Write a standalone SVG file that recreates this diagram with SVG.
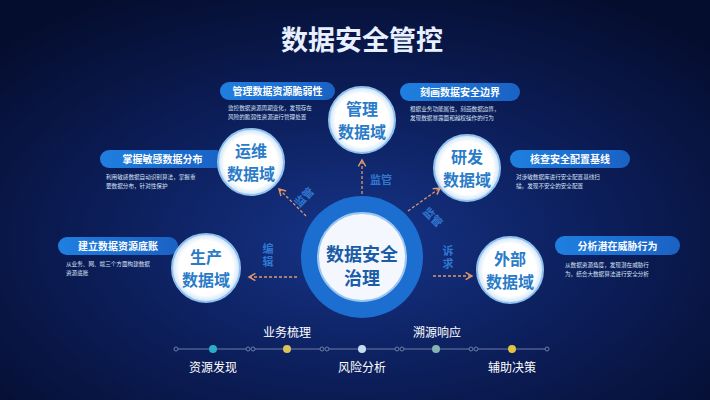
<svg xmlns="http://www.w3.org/2000/svg" width="710" height="400" viewBox="0 0 710 400">
<defs>
<radialGradient id="bg" cx="0.5" cy="0.6" r="0.7">
<stop offset="0" stop-color="#163488"/>
<stop offset="0.5" stop-color="#0c1e5a"/>
<stop offset="1" stop-color="#050d2e"/>
</radialGradient>
<linearGradient id="pill" x1="0" y1="0" x2="1" y2="0">
<stop offset="0" stop-color="#1f7fe0"/>
<stop offset="1" stop-color="#1a62c4"/>
</linearGradient>
<radialGradient id="node" cx="0.5" cy="0.5" r="0.5">
<stop offset="0.8" stop-color="#ffffff"/>
<stop offset="1" stop-color="#cfe3f7"/>
</radialGradient>
<marker id="ah" viewBox="0 0 10 10" refX="8" refY="5" markerWidth="7" markerHeight="7" orient="auto">
<path d="M1,1 L8,5 L1,9" fill="none" stroke="#e0986a" stroke-width="1.6"/>
</marker>
<style>
.pill{fill:url(#pill)}
.pt{font-family:"Noto Sans CJK SC","Liberation Sans",sans-serif;font-size:10px;fill:#ffffff;text-anchor:middle;font-weight:bold}
.desc{font-family:"Noto Sans CJK SC","Liberation Sans",sans-serif;font-size:5.6px;fill:#d8e2f4}
.nc{fill:url(#node);stroke:#8ec1ef;stroke-width:2}
.nt{font-family:"Noto Sans CJK SC","Liberation Sans",sans-serif;font-size:16px;fill:#2a7bc8;text-anchor:middle;font-weight:bold}
.conn{stroke:#e0986a;stroke-width:1.3;stroke-dasharray:3 2;fill:none;marker-end:url(#ah)}
.cl{font-family:"Noto Sans CJK SC","Liberation Sans",sans-serif;font-size:11px;fill:#2f78d0;text-anchor:middle;font-weight:bold}
.vl{writing-mode:vertical-rl;letter-spacing:2px}
.tl{font-family:"Noto Sans CJK SC","Liberation Sans",sans-serif;font-size:12px;fill:#ffffff;text-anchor:middle}
.seg{stroke:#6c7fa6;stroke-width:1.2}
.jt{fill:none;stroke:#6c7fa6;stroke-width:1}
.ct{font-family:"Noto Sans CJK SC","Liberation Sans",sans-serif;font-size:18px;font-weight:bold;fill:#1b5ca8;text-anchor:middle}
</style>
</defs>
<rect width="710" height="400" fill="url(#bg)"/>
<text x="362" y="50" font-family="Noto Sans CJK SC,Liberation Sans,sans-serif" font-size="27" font-weight="bold" fill="#e8f0ff" text-anchor="middle">数据安全管控</text>

<g id="label-1">
<rect class="pill" x="220" y="82" width="115" height="18" rx="9"/>
<text class="pt" x="277.5" y="95">管理数据资源脆弱性</text>
<text class="desc" x="228" y="110">监控数据资源周期变化，发现存在</text>
<text class="desc" x="228" y="119">风险的脆弱性资源进行管理处置</text>
</g>
<g id="label-2">
<rect class="pill" x="100" y="150" width="125" height="18" rx="9"/>
<text class="pt" x="162.5" y="163">掌握敏感数据分布</text>
<text class="desc" x="106" y="179">利用敏感数据自动识别算法，掌握重</text>
<text class="desc" x="106" y="188">要数据分布，针对性保护</text>
</g>
<g id="label-3">
<rect class="pill" x="58" y="237" width="120" height="18" rx="9"/>
<text class="pt" x="118" y="250">建立数据资源底账</text>
<text class="desc" x="66" y="266">从业务、网、端三个方面构建数据</text>
<text class="desc" x="66" y="275">资源底账</text>
</g>
<g id="label-4">
<rect class="pill" x="400" y="83" width="120" height="18" rx="9"/>
<text class="pt" x="460" y="96">刻画数据安全边界</text>
<text class="desc" x="410" y="111">根据业务功能属性，刻画数据边界，</text>
<text class="desc" x="410" y="120">发现数据暴露面和越权操作的行为</text>
</g>
<g id="label-5">
<rect class="pill" x="510" y="150" width="120" height="18" rx="9"/>
<text class="pt" x="570" y="163">核查安全配置基线</text>
<text class="desc" x="516" y="179">对涉敏数据库进行安全配置基线扫</text>
<text class="desc" x="516" y="188">描，发现不安全的安全配置</text>
</g>
<g id="label-6">
<rect class="pill" x="555" y="236" width="125" height="19" rx="9.5"/>
<text class="pt" x="617.5" y="249.5">分析潜在威胁行为</text>
<text class="desc" x="565" y="267">从数据资源角度，发现潜在威胁行</text>
<text class="desc" x="565" y="276">为，结合大数据算法进行安全分析</text>
</g>

<g id="connectors">
<line class="conn" x1="362" y1="194" x2="362" y2="160"/>
<line class="conn" x1="306" y1="216" x2="279" y2="189"/>
<line class="conn" x1="297" y1="277" x2="249" y2="277"/>
<line class="conn" x1="408" y1="211" x2="440" y2="188"/>
<line class="conn" x1="433" y1="276" x2="472" y2="276"/>
<text class="cl" x="381" y="184">监管</text>
<text class="cl" transform="translate(307,200) rotate(-45)">监管</text>
<text class="cl vl" x="268" y="256">编辑</text>
<text class="cl" transform="translate(430,220) rotate(45)">监管</text>
<text class="cl vl" x="448" y="258">诉求</text>
</g>

<g id="node-center">
<circle cx="362" cy="257" r="61" fill="#1c6fd0"/>
<circle cx="362" cy="257" r="44" fill="#f4f8fe" stroke="#9ac6f0" stroke-width="2"/>
<text class="ct" x="362" y="261">数据安全</text>
<text class="ct" x="362" y="285">治理</text>
</g>
<g id="node-guanli">
<circle class="nc" cx="362" cy="120" r="33"/>
<text class="nt" x="362" y="115">管理</text>
<text class="nt" x="362" y="138">数据域</text>
</g>
<g id="node-yunwei">
<circle class="nc" cx="251" cy="162" r="33"/>
<text class="nt" x="251" y="157">运维</text>
<text class="nt" x="251" y="180">数据域</text>
</g>
<g id="node-shengchan">
<circle class="nc" cx="206" cy="268" r="34"/>
<text class="nt" x="206" y="263">生产</text>
<text class="nt" x="206" y="286">数据域</text>
</g>
<g id="node-yanfa">
<circle class="nc" cx="467" cy="168" r="33"/>
<text class="nt" x="467" y="163">研发</text>
<text class="nt" x="467" y="186">数据域</text>
</g>
<g id="node-waibu">
<circle class="nc" cx="510" cy="270" r="33"/>
<text class="nt" x="510" y="265">外部</text>
<text class="nt" x="510" y="288">数据域</text>
</g>

<g id="timeline">
<line class="seg" x1="178" y1="349" x2="246" y2="349"/>
<line class="seg" x1="255" y1="349" x2="320" y2="349"/>
<line class="seg" x1="329" y1="349" x2="395" y2="349"/>
<line class="seg" x1="404" y1="349" x2="469" y2="349"/>
<line class="seg" x1="478" y1="349" x2="545" y2="349"/>
<circle class="jt" cx="176" cy="349" r="2"/>
<circle class="jt" cx="248" cy="349" r="2"/><circle class="jt" cx="253" cy="349" r="2"/>
<circle class="jt" cx="322" cy="349" r="2"/><circle class="jt" cx="327" cy="349" r="2"/>
<circle class="jt" cx="397" cy="349" r="2"/><circle class="jt" cx="402" cy="349" r="2"/>
<circle class="jt" cx="471" cy="349" r="2"/><circle class="jt" cx="476" cy="349" r="2"/>
<circle class="jt" cx="547" cy="349" r="2"/>
<circle cx="213" cy="349" r="4" fill="#2aaec8"/>
<circle cx="287" cy="349" r="4" fill="#d8c458"/>
<circle cx="362" cy="349" r="4" fill="#c6dcf4"/>
<circle cx="436" cy="349" r="4" fill="#86b4b4"/>
<circle cx="512" cy="349" r="4" fill="#e2c444"/>
<text class="tl" x="213" y="372">资源发现</text>
<text class="tl" x="287" y="337">业务梳理</text>
<text class="tl" x="362" y="372">风险分析</text>
<text class="tl" x="437" y="337">溯源响应</text>
<text class="tl" x="512" y="372">辅助决策</text>
</g>
</svg>
